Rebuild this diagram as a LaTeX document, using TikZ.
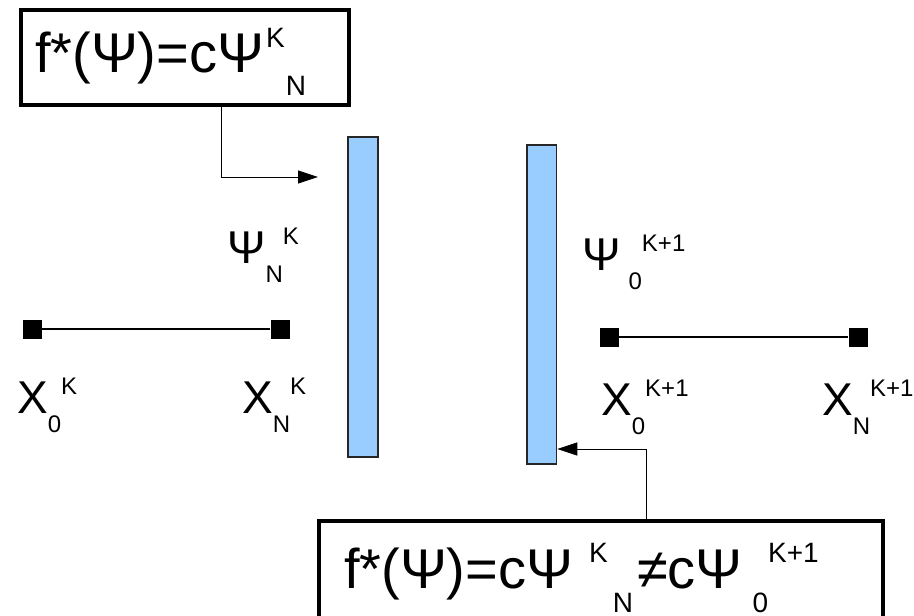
\documentclass[tikz,border=0pt]{standalone}
\usepackage{fontspec}
\setmainfont{Liberation Sans}
\usetikzlibrary{arrows.meta}
\definecolor{barblue}{HTML}{99CCFF}
\newcommand{\bigf}{\fontsize{56}{56}\selectfont}
\newcommand{\midf}{\fontsize{46}{46}\selectfont}
\newcommand{\supf}{\fontsize{28}{28}\selectfont}
\newcommand{\smlf}{\fontsize{24}{24}\selectfont}
% base, then index below, then index above
\newcommand{\idx}[4][0pt]{#2\kern#1\raisebox{-19pt}{\smlf #3}\raisebox{19pt}{\smlf #4}}

\begin{document}
\begin{tikzpicture}[x=1pt,y=-1pt,
  bar/.style={draw=black!85, line width=1.5pt, fill=barblue, inner sep=0pt},
  box/.style={draw, line width=4pt, inner sep=0pt},
  endpt/.style={fill, inner sep=0pt, minimum size=19pt},
  conn/.style={line width=0.8pt, -{Triangle[length=20pt,width=13pt]}},
  lbl/.style={anchor=base west, inner sep=0pt, font=\midf}]
\clip (0,0) rectangle (914,616);
% the two boxes
\node[box, minimum width=328.5pt, minimum height=95.5pt] (topbox) at (184.75,57.25) {};
\node[anchor=base west, inner sep=0pt, font=\bigf] (topeq) at (35,72) {f*(Ψ)=cΨ\kern2pt\raisebox{25pt}{\supf K}\kern1pt\raisebox{-23pt}{\supf N}};
\node[box, minimum width=563.5pt, minimum height=139pt] (botbox) at (600.75,590.5) {};
\node[anchor=base west, inner sep=0pt, font=\bigf] (boteq) at (344,588) {f*(Ψ)=cΨ\kern16pt\raisebox{26pt}{\supf K}\kern5pt\raisebox{-24pt}{\supf N}\kern4pt≠cΨ\kern10pt\raisebox{-24pt}{\supf 0}\raisebox{26pt}{\supf K+1}};
% interfaces
\node[bar, minimum width=30pt, minimum height=320pt] (barL) at (363,297) {};
\node[bar, minimum width=29.5pt, minimum height=319pt] (barR) at (541.75,304.5) {};
% arrows
\coordinate (tipL) at (318,177);
\draw[conn] (topbox.south -| 221,0) |- (tipL);
\draw[conn] (botbox.north -| 646,0) |- (barR.east |- 0,449);
% subdomains
\node[endpt] (x0L) at (32,329) {};
\node[endpt] (xNL) at (280,329) {};
\draw[line width=2pt] (x0L) -- (xNL);
\node[endpt] (x0R) at (609,337) {};
\node[endpt] (xNR) at (858,337) {};
\draw[line width=2pt] (x0R) -- (xNR);
% labels
\node[lbl] (lx0L) at (17,413) {\idx{X}{0}{K}};
\node[lbl] (lxNL) at (242,413) {\idx{X}{N}{K}};
\node[lbl] (lpsiL) at (227,263) {\idx{Ψ}{N}{K}};
\node[lbl] (lpsiR) at (582,270) {\idx[8pt]{Ψ}{0}{K+1}};
\node[lbl] (lx0R) at (601,415) {\idx{X}{0}{K+1}};
\node[lbl] (lxNR) at (822,415) {\idx{X}{N}{K+1}};
\end{tikzpicture}
\end{document}
